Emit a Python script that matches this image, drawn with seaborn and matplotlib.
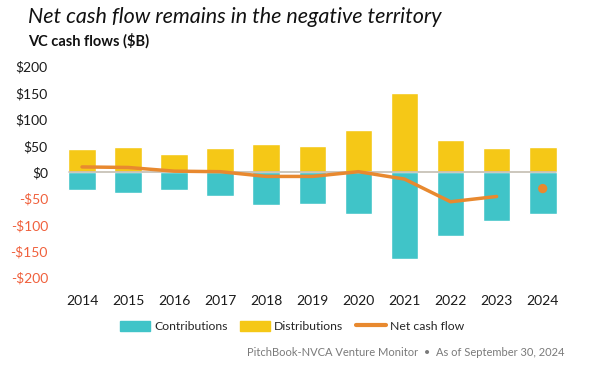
import matplotlib
matplotlib.use("Agg")
import matplotlib.pyplot as plt
import seaborn as sns
import pandas as pd
from matplotlib.lines import Line2D
from matplotlib.patches import Patch

years = ["2014", "2015", "2016", "2017", "2018", "2019", "2020", "2021", "2022", "2023", "2024"]
contributions = [-34, -40, -34, -45, -63, -61, -80, -165, -121, -93, -80]
distributions = [44, 47, 34, 45, 53, 49, 80, 150, 62, 46, 47]
net_years = ["2014", "2015", "2016", "2017", "2018", "2019", "2020", "2021", "2022", "2023"]
net_flow = [10, 9, 2, 1, -8, -8, 1, -13, -56, -46]
net_2024 = -31

TEAL = "#40C4C8"
YELLOW = "#F5C817"
ORANGE = "#E8892F"
NEG_RED = "#F0603C"

sns.set_style("white")
plt.rcParams["font.family"] = ["Lato", "DejaVu Sans"]

fig = plt.figure(figsize=(6.12, 3.87), dpi=100)
ax = fig.add_axes([0.0964, 0.262, 0.828, 0.586])

df = pd.DataFrame({"year": years, "contrib": contributions, "dist": distributions})
sns.barplot(data=df, x="year", y="dist", color=YELLOW, width=0.6, saturation=1, ax=ax)
sns.barplot(data=df, x="year", y="contrib", color=TEAL, width=0.6, saturation=1, ax=ax)

ax.axhline(0, color="#C4BDB2", lw=1.2, xmin=0.02, xmax=0.98, zorder=3)

net_df = pd.DataFrame({"pos": range(len(net_years)), "net": net_flow})
sns.lineplot(data=net_df, x="pos", y="net", color=ORANGE, lw=2.5, ax=ax, zorder=4)
sns.scatterplot(x=[years.index("2024")], y=[net_2024], color=ORANGE, s=45, marker="o",
                edgecolor="none", ax=ax, zorder=4)

ax.set_xlim(-0.5, 10.5)
ax.set_ylim(-215, 215)
ticks = [200, 150, 100, 50, 0, -50, -100, -150, -200]
ax.set_yticks(ticks)
ax.set_yticklabels([f"${t}" if t >= 0 else f"-${-t}" for t in ticks])
for lab, t in zip(ax.get_yticklabels(), ticks):
    lab.set_color("#1A1A1A" if t >= 0 else NEG_RED)
ax.tick_params(axis="y", labelsize=10, length=0, pad=8)
ax.tick_params(axis="x", labelsize=10, length=0, pad=7, labelcolor="#1A1A1A")
ax.set_xlabel("")
ax.set_ylabel("")
sns.despine(ax=ax, left=True, bottom=True)

fig.text(0.046, 0.955, "Net cash flow remains in the negative territory", fontsize=15.5,
         style="italic", color="#111111", va="center")
fig.text(0.046, 0.895, "VC cash flows ($B)", fontsize=10.5, fontweight="bold",
         color="#111111", va="center")

handles = [Patch(color=TEAL, label="Contributions"),
           Patch(color=YELLOW, label="Distributions"),
           Line2D([0], [0], color=ORANGE, lw=3, label="Net cash flow")]
fig.legend(handles=handles, loc="center", bbox_to_anchor=(0.477, 0.157), ncol=3,
           frameon=False, fontsize=8.8, handlelength=2.5, handleheight=0.9,
           columnspacing=1.0, handletextpad=0.3)

fig.text(0.922, 0.088, "PitchBook-NVCA Venture Monitor  \u2022  As of September 30, 2024",
         fontsize=8, color="#7A7A7A", ha="right", va="center")

plt.savefig("out.png", dpi=100)
